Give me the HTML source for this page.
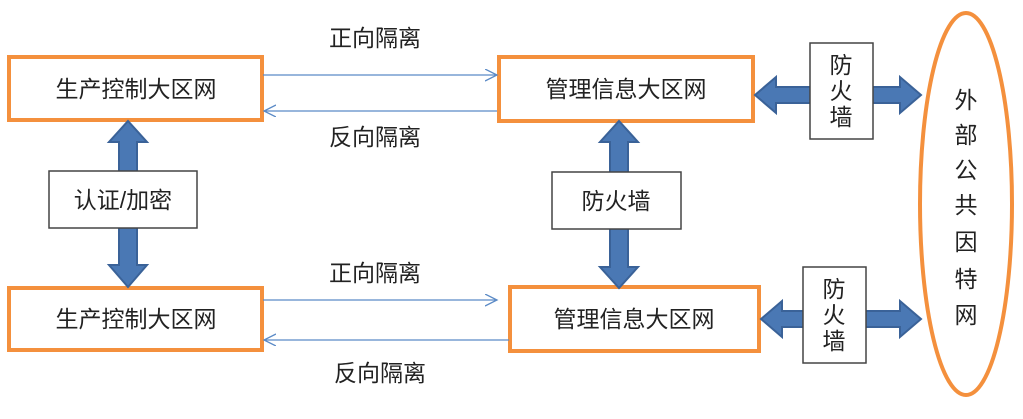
<!DOCTYPE html>
<html><head><meta charset="utf-8"><style>
html,body{margin:0;padding:0;background:#fff;}
svg text{font-family:"Liberation Sans","Noto Sans CJK SC",sans-serif;fill:#222;}
</style></head><body>
<svg width="1023" height="414" viewBox="0 0 1023 414" xmlns="http://www.w3.org/2000/svg">
<defs>
<marker id="oa" markerWidth="14" markerHeight="14" refX="12" refY="6" orient="auto" markerUnits="userSpaceOnUse">
<path d="M0,0 L12,6 L0,12" fill="none" stroke="#5b8ac6" stroke-width="1.3"/>
</marker>
</defs>
<g fill="#fff" stroke="#f4903d" stroke-width="4">
<rect x="9" y="57" width="253" height="63"/>
<rect x="499" y="57" width="254" height="64"/>
<rect x="9" y="288" width="253" height="62"/>
<rect x="510" y="287" width="249" height="64"/>
<ellipse cx="966" cy="204" rx="46" ry="191"/>
</g>
<g stroke="#5b8ac6" stroke-width="1.3" fill="none">
<line x1="263" y1="75" x2="497" y2="75" marker-end="url(#oa)"/>
<line x1="497" y1="111" x2="264" y2="111" marker-end="url(#oa)"/>
<line x1="263" y1="300" x2="497" y2="300" marker-end="url(#oa)"/>
<line x1="509" y1="340" x2="264" y2="340" marker-end="url(#oa)"/>
</g>
<g fill="#4a78b4" stroke="#3a6298" stroke-width="2">
<path d="M128,121 L147,142 L137,142 L137,265 L147,265 L128,287 L109,265 L119,265 L119,142 L109,142 Z"/>
<path d="M619,121 L638,142 L628,142 L628,267 L638,267 L619,288 L600,267 L610,267 L610,142 L600,142 Z"/>
<path d="M755,95 L776,77 L776,87 L900,87 L900,77 L921,95 L900,113 L900,103 L776,103 L776,113 Z"/>
<path d="M761,319 L782,301 L782,311 L900,311 L900,301 L921,319 L900,337 L900,327 L782,327 L782,337 Z"/>
</g>
<g fill="#fff" stroke="#444" stroke-width="1.5">
<rect x="49" y="171" width="148" height="57"/>
<rect x="552" y="172" width="129" height="57"/>
<rect x="810" y="43" width="63" height="96"/>
<rect x="803" y="267" width="63" height="96"/>
</g>
<g font-size="23" text-anchor="middle">
<text x="136" y="97">生产控制大区网</text>
<text x="626" y="97">管理信息大区网</text>
<text x="136" y="327">生产控制大区网</text>
<text x="634" y="327">管理信息大区网</text>
<text x="123" y="208">认证/加密</text>
<text x="616" y="209">防火墙</text>
<text x="375" y="46">正向隔离</text>
<text x="375" y="145">反向隔离</text>
<text x="375" y="281">正向隔离</text>
<text x="380" y="381">反向隔离</text>
<text x="841" y="73">防</text><text x="841" y="99">火</text><text x="841" y="125">墙</text>
<text x="834" y="297">防</text><text x="834" y="323">火</text><text x="834" y="349">墙</text>
</g>
<g font-size="23" text-anchor="middle">
<text x="966" y="108">外</text>
<text x="966" y="143">部</text>
<text x="966" y="178">公</text>
<text x="966" y="213">共</text>
<text x="966" y="250">因</text>
<text x="966" y="287">特</text>
<text x="966" y="323">网</text>
</g>
</svg>
</body></html>
